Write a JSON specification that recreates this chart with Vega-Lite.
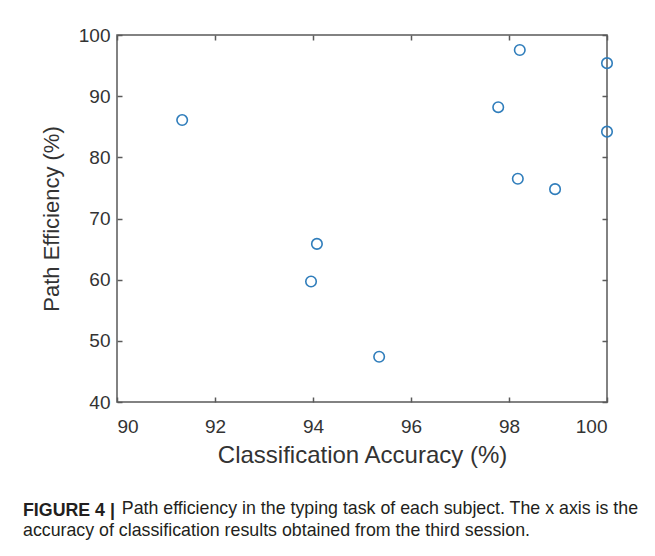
{
  "$schema": "https://vega.github.io/schema/vega-lite/v6.json",
  "width": 490,
  "height": 367,
  "autosize": "none",
  "padding": {"left": 117, "top": 35, "right": 48, "bottom": 154},
  "background": "white",
  "config": {
    "font": "Liberation Sans",
    "view": {"stroke": "#5a5a5a", "strokeWidth": 1.5}
  },
  "title": {
    "text": "FIGURE 4 |",
    "subtitle": [
      "\u200b\u00a0\u00a0\u00a0\u00a0\u00a0\u00a0\u00a0\u00a0\u00a0\u00a0\u00a0\u00a0\u00a0\u00a0\u00a0\u00a0\u00a0\u00a0\u00a0\u00a0Path efficiency in the typing task of each subject. The x axis is the",
      "accuracy of classification results obtained from the third session."
    ],
    "orient": "bottom",
    "anchor": "start",
    "frame": "group",
    "dx": -94,
    "offset": 35,
    "font": "Liberation Sans",
    "fontSize": 17.8,
    "fontWeight": "bold",
    "color": "#231f20",
    "subtitleFont": "Liberation Sans",
    "subtitleFontSize": 17.8,
    "subtitleColor": "#231f20",
    "subtitleLineHeight": 22,
    "subtitlePadding": -20
  },
  "data": {
    "values": [
      {"acc": 91.33, "eff": 86.1},
      {"acc": 98.22, "eff": 97.55},
      {"acc": 100.0, "eff": 95.4},
      {"acc": 97.78, "eff": 88.2},
      {"acc": 100.0, "eff": 84.2},
      {"acc": 98.18, "eff": 76.5},
      {"acc": 98.94, "eff": 74.8},
      {"acc": 94.08, "eff": 65.85},
      {"acc": 93.96, "eff": 59.7},
      {"acc": 95.35, "eff": 47.4}
    ]
  },
  "layer": [
    {
      "mark": {"type": "point", "shape": "circle", "filled": false, "size": 110, "strokeWidth": 1.6, "color": "#2f7dbb", "opacity": 1},
      "encoding": {
        "x": {
          "field": "acc", "type": "quantitative",
          "scale": {"domain": [90, 100], "nice": false, "zero": false},
          "axis": {"orient": "bottom", "values": [90, 92, 94, 96, 98, 100], "grid": false, "domain": false,
                   "tickSize": -5, "tickColor": "#5a5a5a", "tickWidth": 1.5, "labelPadding": 20,
                   "labelFontSize": 19, "labelColor": "#333333", "labelFont": "Liberation Sans",
                   "title": "Classification Accuracy (%)", "titleFontSize": 24, "titleFontWeight": "normal",
                   "titleColor": "#333333", "titlePadding": 7, "titleFont": "Liberation Sans"}
        },
        "y": {
          "field": "eff", "type": "quantitative",
          "scale": {"domain": [40, 100], "nice": false, "zero": false},
          "axis": {"orient": "left", "values": [40, 50, 60, 70, 80, 90, 100], "grid": false, "domain": false,
                   "tickSize": -5, "tickColor": "#5a5a5a", "tickWidth": 1.5, "labelPadding": 12,
                   "labelFontSize": 19, "labelColor": "#333333", "labelFont": "Liberation Sans",
                   "title": "Path Efficiency (%)", "titleFontSize": 22, "titleFontWeight": "normal",
                   "titleColor": "#333333", "titlePadding": 15, "titleFont": "Liberation Sans"}
        }
      }
    },
    {
      "mark": {"type": "point", "opacity": 0},
      "encoding": {
        "x": {
          "field": "acc", "type": "quantitative",
          "axis": {"orient": "top", "values": [90, 92, 94, 96, 98, 100], "grid": false, "domain": false,
                   "labels": false, "tickSize": -5, "tickColor": "#5a5a5a", "tickWidth": 1.5, "title": null}
        },
        "y": {
          "field": "eff", "type": "quantitative",
          "axis": {"orient": "right", "values": [40, 50, 60, 70, 80, 90, 100], "grid": false, "domain": false,
                   "labels": false, "tickSize": -5, "tickColor": "#5a5a5a", "tickWidth": 1.5, "title": null}
        }
      }
    }
  ],
  "resolve": {"axis": {"x": "independent", "y": "independent"}}
}
